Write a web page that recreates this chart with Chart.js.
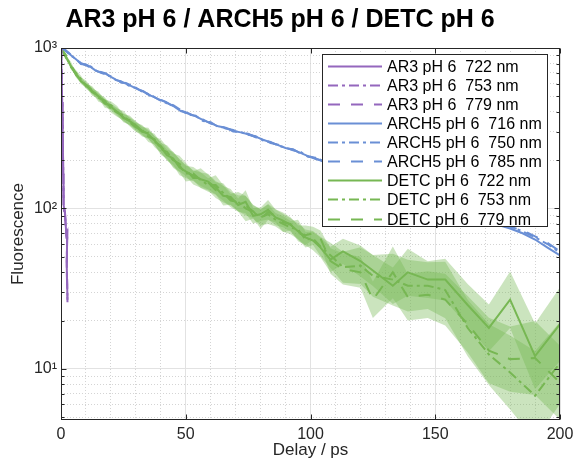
<!DOCTYPE html>
<html><head><meta charset="utf-8">
<script src="https://cdn.jsdelivr.net/npm/chart.js@4"></script>
<style>html,body{margin:0;padding:0;background:#fff}#wrap{width:575px;height:461px}</style>
</head><body><div id="wrap"><canvas id="c" width="575" height="461"></canvas></div>
<script>
// ---------- data ----------
const titleText = 'AR3 pH 6 / ARCH5 pH 6 / DETC pH 6';
const xTickLabels = [0, 50, 100, 150, 200];
const yTickLabels = {10: '10\u00B9', 100: '10\u00B2', 1000: '10\u00B3'};

const ar3X   = [0, 0.2, 0.45, 0.7, 0.9, 1.05, 1.6, 2.1, 2.5, 2.3, 2.6];
const ar3_722 = [1000, 740, 460, 290, 165, 105, 93, 70, 72, 44, 27];
const ar3_753 = [1000, 760, 470, 280, 170, 100, 90, 72, 68, 46, 28];
const ar3_779 = [1000, 730, 450, 300, 160, 108, 95, 68, 70, 42, 26];

const blueX = [0,1,2,3,4,6,8,10,12,14,16,18,20,22,24,26,28,30,33,36,39,42,45,48,51,54,57,60,63,66,69,72,75,78,81,84,87,90,93,96,99,102,105,110,115,120,125,130,135,140,145,150,155,160,165,170,175,180,185,190,195,200];
const arch5_716 = [1000,990,960,930,900,850,800,790,760,720,705,690,660,635,615,600,580,560,535,505,480,460,435,405,390,375,355,340,325,318,305,298,290,280,268,258,248,238,232,222,212,205,196,185,172,162,152,143,133,125,118,110,103,96,90,84,79,75,70,64,57,51];
const arch5_750 = [1000,985,965,925,895,855,795,785,765,725,700,685,665,630,620,595,575,565,530,510,478,455,440,410,385,378,350,345,322,320,302,300,288,282,265,260,246,240,230,225,210,207,198,188,175,165,155,146,136,128,120,113,106,98,92,86,82,77,72,66,60,53];
const arch5_785 = [1000,995,955,935,905,845,805,780,755,715,710,695,655,640,610,605,585,555,538,500,483,462,432,408,392,372,358,338,328,315,308,296,292,278,270,256,250,236,234,220,214,203,199,190,176,166,156,147,137,129,121,114,107,99,93,87,82,77,73,67,61,54];

const greenX = [0,2,4,6,8,10,12.5,15,17.5,20,22.5,25,27.5,30,32.5,35,37.5,40,42.5,45,47.5,50,53,56,59,62,65,68,71,74,77,80,83,86,89,92,95,98,101,104,108,113,120,125,133,139,147,154,163,171.5,180,190,200];
const detc_722 = [1000,880,770,690,620,590,540,500,460,430,400,370,350,330,305,290,265,240,215,205,180,170,160,152,147,135,120,118,105,110,90,92,98,88,84,79,72,66,63,57,48,54,47,41,33,40,36,36,25,18,27,12,19];
const detc_753 = [1000,900,760,700,640,580,550,490,470,420,395,380,345,320,310,280,270,235,225,200,185,165,165,150,140,140,125,112,110,100,95,88,92,85,80,76,74,64,65,58,51,43,44,38,36,33,33,31,18,12.3,9.5,6.8,10.9];
const detc_779 = [1000,870,790,680,630,600,530,510,450,440,410,365,355,325,300,295,260,245,220,200,190,175,155,155,145,130,125,115,108,104,96,86,95,90,82,80,70,68,70,65,47,42,40,27,40,28,29,27,19,13,11.5,11.7,8.2];
// multiplicative spread (shaded band)
const detcErr_722 = [1.01,1.03,1.03,1.04,1.04,1.04,1.05,1.05,1.05,1.05,1.06,1.06,1.06,1.06,1.07,1.07,1.07,1.08,1.08,1.1,1.12,1.1,1.08,1.1,1.12,1.1,1.15,1.12,1.1,1.18,1.12,1.1,1.15,1.12,1.1,1.1,1.12,1.12,1.15,1.15,1.2,1.2,1.25,1.25,1.3,1.4,1.3,1.35,1.35,1.4,1.5,1.6,1.7];
const detcErr_753 = [1.01,1.03,1.04,1.04,1.05,1.04,1.05,1.06,1.05,1.06,1.06,1.07,1.06,1.07,1.07,1.08,1.08,1.09,1.1,1.12,1.1,1.12,1.1,1.12,1.1,1.15,1.12,1.1,1.15,1.2,1.1,1.12,1.15,1.1,1.12,1.1,1.15,1.12,1.1,1.15,1.2,1.25,1.3,1.35,1.45,1.45,1.4,1.5,1.5,1.55,1.7,1.9,1.8];
const detcErr_779 = [1.01,1.03,1.04,1.04,1.04,1.05,1.05,1.05,1.06,1.06,1.06,1.06,1.07,1.07,1.07,1.08,1.08,1.1,1.1,1.1,1.12,1.1,1.1,1.15,1.12,1.12,1.15,1.1,1.12,1.15,1.1,1.15,1.12,1.1,1.15,1.1,1.12,1.15,1.1,1.12,1.2,1.25,1.25,1.3,1.45,1.4,1.4,1.45,1.5,1.6,1.6,1.7,1.7];

const seriesLabels = ['AR3 pH 6  722 nm','AR3 pH 6  753 nm','AR3 pH 6  779 nm',
  'ARCH5 pH 6  716 nm','ARCH5 pH 6  750 nm','ARCH5 pH 6  785 nm',
  'DETC pH 6  722 nm','DETC pH 6  753 nm','DETC pH 6  779 nm'];

// ---------- styles ----------
const PURPLE = '#9467bd', BLUE = '#6a8fd5', GREEN = '#77b753';
const BAND = 'rgba(119,183,83,0.38)';
const SOLID = [], DASHDOT = [10,4,3,4], DASHED = [12,11];
const FONT = "'Liberation Sans', Arial, sans-serif";

function pts(xs, ys){ return xs.map((v,i)=>({x:v, y:ys[i]})); }
function lineDs(label, xs, ys, color, dash){
  return {label, data: pts(xs, ys), borderColor: color, backgroundColor: color, borderWidth: 2,
          borderDash: dash, pointRadius: 0, fill: false, tension: 0, order: 0};
}
function bandDs(xs, ys, err){
  return [
    {label:'_band', data: pts(xs, ys.map((v,i)=>v*err[i])), borderWidth:0, borderColor:'rgba(0,0,0,0)', pointRadius:0, fill:false, tension:0, order:1},
    {label:'_band', data: pts(xs, ys.map((v,i)=>v/err[i])), borderWidth:0, borderColor:'rgba(0,0,0,0)', pointRadius:0, fill:'-1', backgroundColor: BAND, tension:0, order:1}
  ];
}

const lineSets = [
  lineDs(seriesLabels[0], ar3X, ar3_722, PURPLE, SOLID),
  lineDs(seriesLabels[1], ar3X, ar3_753, PURPLE, DASHDOT),
  lineDs(seriesLabels[2], ar3X, ar3_779, PURPLE, DASHED),
  lineDs(seriesLabels[3], blueX, arch5_716, BLUE, SOLID),
  lineDs(seriesLabels[4], blueX, arch5_750, BLUE, DASHDOT),
  lineDs(seriesLabels[5], blueX, arch5_785, BLUE, DASHED),
  lineDs(seriesLabels[6], greenX, detc_722, GREEN, SOLID),
  lineDs(seriesLabels[7], greenX, detc_753, GREEN, DASHDOT),
  lineDs(seriesLabels[8], greenX, detc_779, GREEN, DASHED)
];
const datasets = [
  ...lineSets,
  ...bandDs(greenX, detc_722, detcErr_722),
  ...bandDs(greenX, detc_753, detcErr_753),
  ...bandDs(greenX, detc_779, detcErr_779)
];

const yAllTicks = [];
[1,10,100].forEach(d=>{ for(let k=1;k<=9;k++){ const v=k*d; if(v>=4.8) yAllTicks.push(v);} });
yAllTicks.push(1000);
const xAllTicks = [];
for (let v=0; v<=200; v+=10) xAllTicks.push(v);
const isDecade = v => [1,10,100,1000].includes(v);

const boxPlugin = {
  id: 'boxAndLegend',
  afterDatasetsDraw(chart){
    const {ctx, chartArea:a, scales:{x, y}} = chart;
    ctx.save();
    ctx.strokeStyle = '#262626'; ctx.lineWidth = 1; ctx.setLineDash([]);
    const L = Math.round(a.left)+0.5, R = Math.round(a.right)-0.5, T = Math.round(a.top)+0.5, B = Math.round(a.bottom)-0.5;
    ctx.beginPath();
    xTickLabels.forEach(v=>{
      const px = Math.round(x.getPixelForValue(v))+0.5;
      ctx.moveTo(px, B); ctx.lineTo(px, B-5);
      ctx.moveTo(px, T); ctx.lineTo(px, T+5);
    });
    yAllTicks.forEach(v=>{
      const py = Math.round(y.getPixelForValue(v))+0.5;
      const len = isDecade(v) ? 5 : 3;
      ctx.moveTo(L, py); ctx.lineTo(L+len, py);
      ctx.moveTo(R, py); ctx.lineTo(R-len, py);
    });
    ctx.stroke();
    ctx.strokeRect(L, T, R-L, B-T);

    // legend box
    const bx = 322.5, by = 54.5, bw = 225, bh = 172, rowH = 19.1, row0 = 65.7;
    ctx.fillStyle = '#fff';
    ctx.fillRect(bx, by, bw, bh);
    ctx.strokeStyle = '#262626';
    ctx.strokeRect(bx, by, bw, bh);
    ctx.font = "16px " + FONT;
    ctx.textBaseline = 'middle';
    ctx.textAlign = 'left';
    lineSets.forEach((ds, i)=>{
      const cy = Math.round(row0 + i*rowH) + 0.5;
      ctx.strokeStyle = ds.borderColor; ctx.lineWidth = 2;
      ctx.setLineDash(ds.borderDash);
      ctx.beginPath(); ctx.moveTo(328, cy); ctx.lineTo(382, cy); ctx.stroke();
      ctx.setLineDash([]);
      ctx.fillStyle = '#000';
      ctx.fillText(ds.label, 387, cy + 1);
    });
    ctx.restore();
  }
};

Chart.defaults.font.family = FONT;
new Chart(document.getElementById('c'), {
  type: 'line',
  data: { datasets },
  options: {
    responsive: false, animation: false, devicePixelRatio: 1,
    layout: { padding: { left: 0, right: 15, top: 0, bottom: 0 } },
    plugins: {
      legend: { display: false }, tooltip: { enabled: false },
      title: { display: true, text: titleText, color: '#000',
               font: { size: 25, weight: 'bold', family: FONT }, padding: { top: 5, bottom: 13 } }
    },
    scales: {
      x: {
        type: 'linear', min: 0, max: 200,
        afterFit: s => { s.height = 41; s.paddingLeft = 0; s.paddingRight = 0; },
        afterBuildTicks: s => { s.ticks = xAllTicks.map(v=>({value:v})); },
        ticks: { autoSkip: false, maxRotation: 0, padding: 5, color: '#262626', font: { size: 16 },
                 callback: v => xTickLabels.includes(v) ? String(v) : '' },
        grid: { drawTicks: false, lineWidth: 1,
                color: c => (c.tick && c.tick.value % 50 === 0) ? '#e2e2e2' : '#d4d4d4' },
        border: { display: false, dash: c => (c.tick && c.tick.value % 50 === 0) ? [] : [1,2] },
        title: { display: true, text: 'Delay / ps', color: '#262626', font: { size: 17 }, padding: { top: -2, bottom: 0 } }
      },
      y: {
        type: 'logarithmic', min: 4.8, max: 1000,
        afterFit: s => { s.width = 61; s.paddingTop = 0; s.paddingBottom = 0; },
        afterBuildTicks: s => { s.ticks = yAllTicks.map(v=>({value:v})); },
        ticks: { autoSkip: false, padding: 4, color: '#262626', font: { size: 16 },
                 callback: v => yTickLabels[v] || '' },
        grid: { drawTicks: false, lineWidth: 1,
                color: c => (c.tick && isDecade(c.tick.value)) ? '#e2e2e2' : '#d4d4d4' },
        border: { display: false, dash: c => (c.tick && isDecade(c.tick.value)) ? [] : [1,2] },
        title: { display: true, text: 'Fluorescence', color: '#262626', font: { size: 17 }, padding: { top: 8, bottom: 0 } }
      }
    }
  },
  plugins: [boxPlugin]
});
</script></body></html>
